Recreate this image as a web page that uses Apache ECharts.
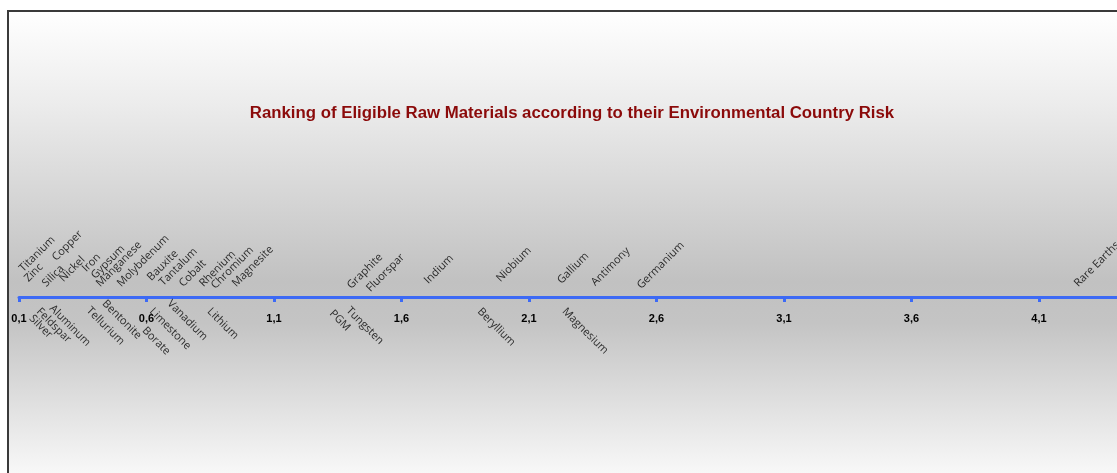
<!DOCTYPE html>
<html>
<head>
<meta charset="utf-8">
<script src="https://cdn.jsdelivr.net/npm/echarts@6/dist/echarts.min.js"></script>
<style>
  html, body { margin: 0; padding: 0; background: #fff; }
  #chart { width: 1117px; height: 473px; }
</style>
</head>
<body>
<div id="chart"></div>
<script>
// materials drawn above the axis line, with their risk value and label height
const upperNames = ['Titanium', 'Zinc', 'Silica', 'Copper', 'Nickel', 'Iron', 'Gypsum', 'Manganese', 'Molybdenum',
  'Bauxite', 'Tantalum', 'Cobalt', 'Rhenium', 'Chromium', 'Magnesite', 'Graphite', 'Fluorspar', 'Indium',
  'Niobium', 'Gallium', 'Antimony', 'Germanium', 'Rare Earths']
const upperValues = [0.104, 0.124, 0.194, 0.233, 0.261, 0.351, 0.386, 0.406, 0.488,
  0.606, 0.653, 0.731, 0.81, 0.857, 0.939, 1.39, 1.465, 1.692,
  1.975, 2.214, 2.347, 2.527, 4.241]
const upperHeights = [24, 14, 9, 35, 14, 24, 17, 9, 9,
  15, 10, 9, 9, 7, 9, 7, 4, 12,
  14, 12, 10, 7, 9]

// materials drawn below the axis line
const lowerNames = ['Silver', 'Feldspar', 'Aluminum', 'Tellurium', 'Bentonite', 'Borate', 'Limestone',
  'Vanadium', 'Lithium', 'PGM', 'Tungsten', 'Beryllium', 'Magnesium']
const lowerValues = [0.143, 0.171, 0.222, 0.367, 0.429, 0.586, 0.614,
  0.684, 0.841, 1.32, 1.386, 1.9, 2.233]
const lowerHeights = [-18, -11, -8, -10, -3, -30, -11,
  -3, -11, -13, -10, -11, -11]

const axisMin = 0.1
const axisMax = 4.406
const axisStep = 0.5

const chartTitle = 'Ranking of Eligible Raw Materials according to their Environmental Country Risk'

const axisBlue = '#3d6af5'
const labelFont = '"Open Sans", "Noto Sans", sans-serif'

const upperData = upperNames.map((name, i) => ({ name: name, value: [upperValues[i], upperHeights[i]] }))
const lowerData = lowerNames.map((name, i) => ({ name: name, value: [lowerValues[i], lowerHeights[i]] }))

const option = {
  animation: false,
  backgroundColor: '#ffffff',
  graphic: [
    {
      type: 'rect',
      z: -10,
      shape: { x: 8, y: 11, width: 1200, height: 520 },
      style: {
        fill: new echarts.graphic.LinearGradient(0, 0, 0, 1, [
          { offset: 0, color: '#ffffff' },
          { offset: 0.18, color: '#ececec' },
          { offset: 0.52, color: '#c1c1c1' },
          { offset: 0.6, color: '#c4c4c4' },
          { offset: 0.9, color: '#fafafa' },
          { offset: 1, color: '#ffffff' }
        ]),
        stroke: '#3a3a3a',
        lineWidth: 2
      }
    }
  ],
  title: {
    text: chartTitle,
    left: 567,
    top: 100,
    textAlign: 'center',
    textStyle: {
      color: '#8b0a0a',
      fontFamily: '"Liberation Sans", Arial, sans-serif',
      fontSize: 16.8,
      fontWeight: 'bold'
    }
  },
  grid: {
    left: 19,
    right: 0,
    top: 197,
    bottom: 176
  },
  xAxis: {
    type: 'value',
    min: axisMin,
    max: axisMax,
    interval: axisStep,
    axisLine: {
      onZero: false,
      lineStyle: { color: axisBlue, width: 3 }
    },
    axisTick: {
      show: true,
      length: 5,
      lineStyle: { color: axisBlue, width: 3 }
    },
    axisLabel: {
      margin: 16,
      showMaxLabel: false,
      color: '#000',
      fontFamily: '"Liberation Sans", Arial, sans-serif',
      fontSize: 11,
      fontWeight: 'bold',
      formatter: (v) => v.toFixed(1).replace('.', ',')
    },
    splitLine: { show: false }
  },
  yAxis: {
    type: 'value',
    min: 0,
    max: 100,
    show: false,
    splitLine: { show: false }
  },
  series: [
    {
      type: 'scatter',
      symbolSize: 0,
      clip: false,
      data: upperData,
      label: {
        show: true,
        position: [5, 1],
        rotate: 45,
        align: 'left',
        verticalAlign: 'bottom',
        formatter: '{b}',
        color: '#000',
        fontFamily: labelFont,
        fontWeight: 500,
        fontSize: 11
      },
      labelLayout: { hideOverlap: false }
    },
    {
      type: 'scatter',
      symbolSize: 0,
      clip: false,
      data: lowerData,
      label: {
        show: true,
        position: [5, -2],
        rotate: -45,
        align: 'left',
        verticalAlign: 'top',
        formatter: '{b}',
        color: '#000',
        fontFamily: labelFont,
        fontWeight: 500,
        fontSize: 11
      },
      labelLayout: { hideOverlap: false }
    }
  ]
}

const myChart = echarts.init(document.getElementById('chart'))
myChart.setOption(option)
</script>
</body>
</html>
